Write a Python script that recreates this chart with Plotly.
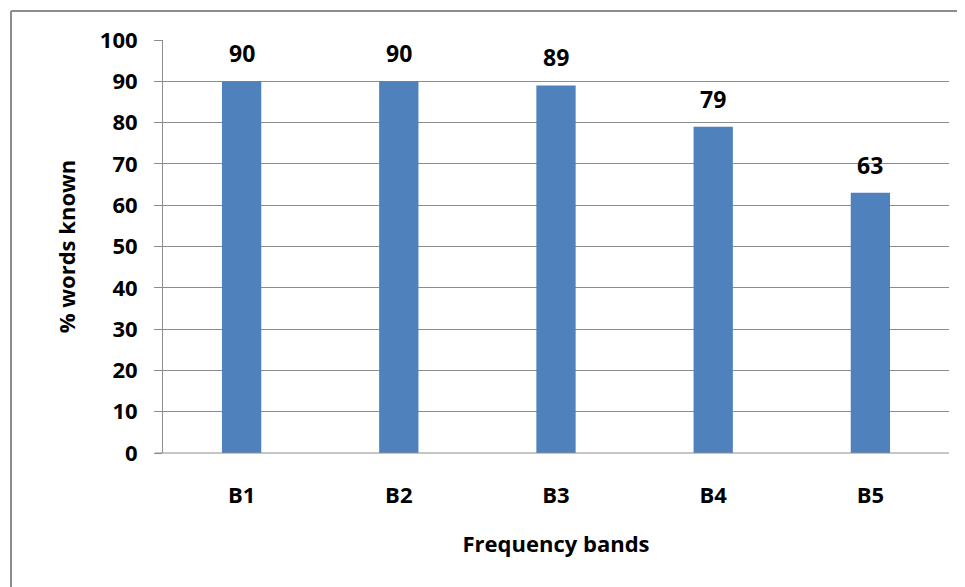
import plotly.graph_objects as go

categories = ["B1", "B2", "B3", "B4", "B5"]
values = [90, 90, 89, 79, 63]
y_ticks = [0, 10, 20, 30, 40, 50, 60, 70, 80, 90, 100]

# page body has an 8px default margin, so the figure is drawn 8px in
OFF = 8
W, H = 965 - OFF, 587 - OFF
L, T = 163 - OFF, 40 - OFF
R = W - (949 - OFF)
B = H - (453 - OFF)
pw, ph = W - L - R, H - T - B

font_family = "'Open Sans', sans-serif"
grid = "#8C8C8C"

fig = go.Figure(go.Bar(
    x=categories, y=values,
    marker=dict(color="#4F81BD", line=dict(width=0)),
    hoverinfo="x+y",
))

for c, v in zip(categories, values):
    fig.add_annotation(
        x=c, y=v, text=f"<b>{v}</b>", showarrow=False, yanchor="middle",
        yshift=28, font=dict(family=font_family, size=23, color="#000000"),
    )

def px_x(p):
    return (p - OFF - L) / pw

def px_y(p):
    return 1 - (p - OFF - T) / ph

fig.update_layout(
    width=W, height=H,
    margin=dict(l=L, r=R, t=T, b=B, pad=0),
    plot_bgcolor="white", paper_bgcolor="white",
    bargap=0.75, showlegend=False,
    font=dict(family=font_family, color="#000000"),
    xaxis=dict(
        showgrid=False, showline=False, ticks="",
        tickfont=dict(size=22, family=font_family, weight="bold"),
        ticklabelstandoff=27,
        title=dict(text="<b>Frequency bands</b>", font=dict(size=22), standoff=28),
    ),
    yaxis=dict(
        range=[0, 100], tickvals=y_ticks, showgrid=True, gridcolor=grid, gridwidth=1,
        showline=True, linecolor=grid, linewidth=1, ticks="outside", ticklen=8,
        tickcolor=grid, tickfont=dict(size=22, family=font_family, weight="bold"),
        ticklabelstandoff=12, zeroline=False,
        title=dict(text="<b>% words known</b>", font=dict(size=22), standoff=18),
    ),
    shapes=[
        dict(type="line", xref="paper", yref="paper", x0=px_x(11), x1=px_x(11),
             y0=px_y(11), y1=px_y(600), line=dict(color=grid, width=2)),
        dict(type="line", xref="paper", yref="paper", x0=px_x(11), x1=px_x(980),
             y0=px_y(11), y1=px_y(11), line=dict(color=grid, width=2)),
        dict(type="line", xref="paper", yref="paper", x0=px_x(155), x1=1,
             y0=0, y1=0, line=dict(color=grid, width=1)),
    ],
)

fig.write_html("out.html")
